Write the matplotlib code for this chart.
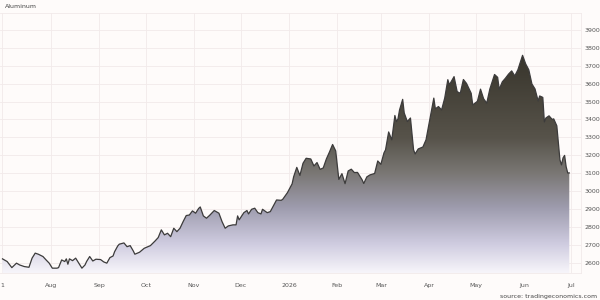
import pandas as pd
import numpy as np
import matplotlib
matplotlib.use("Agg")
import matplotlib.pyplot as plt
import matplotlib.dates as mdates
from matplotlib.colors import LinearSegmentedColormap

# aluminum price, USD/t
dates = [
    "2025-07-01", "2025-07-04", "2025-07-07", "2025-07-10", "2025-07-12", "2025-07-15",
    "2025-07-18", "2025-07-20", "2025-07-22", "2025-07-24", "2025-07-27", "2025-07-29",
    "2025-07-31", "2025-08-02", "2025-08-05", "2025-08-06", "2025-08-08", "2025-08-10",
    "2025-08-11", "2025-08-12", "2025-08-13", "2025-08-15", "2025-08-17", "2025-08-19",
    "2025-08-21", "2025-08-23", "2025-08-24", "2025-08-26", "2025-08-28", "2025-08-30",
    "2025-09-02", "2025-09-04", "2025-09-06", "2025-09-08", "2025-09-10", "2025-09-11",
    "2025-09-13", "2025-09-14", "2025-09-17", "2025-09-19", "2025-09-21", "2025-09-23",
    "2025-09-24", "2025-09-26", "2025-09-27", "2025-09-30", "2025-10-04", "2025-10-07",
    "2025-10-09", "2025-10-11", "2025-10-13", "2025-10-15", "2025-10-17", "2025-10-19",
    "2025-10-21", "2025-10-23", "2025-10-25", "2025-10-27", "2025-10-29", "2025-10-31",
    "2025-11-02", "2025-11-04", "2025-11-05", "2025-11-07", "2025-11-09", "2025-11-11",
    "2025-11-14", "2025-11-17", "2025-11-19", "2025-11-21", "2025-11-23", "2025-11-26",
    "2025-11-28", "2025-11-29", "2025-11-30", "2025-12-03", "2025-12-05", "2025-12-06",
    "2025-12-08", "2025-12-10", "2025-12-12", "2025-12-14", "2025-12-15", "2025-12-18",
    "2025-12-20", "2025-12-24", "2025-12-27", "2025-12-28", "2025-12-31", "2026-01-03",
    "2026-01-04", "2026-01-06", "2026-01-08", "2026-01-10", "2026-01-12", "2026-01-15",
    "2026-01-17", "2026-01-19", "2026-01-21", "2026-01-23", "2026-01-25", "2026-01-27",
    "2026-01-29", "2026-01-31", "2026-02-02", "2026-02-04", "2026-02-06", "2026-02-08",
    "2026-02-10", "2026-02-12", "2026-02-14", "2026-02-17", "2026-02-18", "2026-02-20",
    "2026-02-22", "2026-02-25", "2026-02-27", "2026-03-01", "2026-03-03", "2026-03-04",
    "2026-03-06", "2026-03-08", "2026-03-10", "2026-03-11", "2026-03-12", "2026-03-13",
    "2026-03-15", "2026-03-16", "2026-03-18", "2026-03-20", "2026-03-22", "2026-03-23",
    "2026-03-25", "2026-03-28", "2026-03-30", "2026-04-02", "2026-04-04", "2026-04-05",
    "2026-04-07", "2026-04-09", "2026-04-11", "2026-04-13", "2026-04-14", "2026-04-17",
    "2026-04-19", "2026-04-21", "2026-04-23", "2026-04-25", "2026-04-28", "2026-04-29",
    "2026-05-02", "2026-05-04", "2026-05-06", "2026-05-08", "2026-05-10", "2026-05-13",
    "2026-05-15", "2026-05-16", "2026-05-18", "2026-05-20", "2026-05-22", "2026-05-24",
    "2026-05-26", "2026-05-28", "2026-05-30", "2026-05-31", "2026-06-02", "2026-06-04",
    "2026-06-06", "2026-06-08", "2026-06-10", "2026-06-11", "2026-06-13", "2026-06-14",
    "2026-06-15", "2026-06-17", "2026-06-19", "2026-06-20", "2026-06-22", "2026-06-24",
    "2026-06-25", "2026-06-26", "2026-06-27", "2026-06-28", "2026-06-29", "2026-06-30",
]
prices = [
    2621, 2606, 2572, 2597, 2587, 2578,
    2574, 2625, 2653, 2647, 2634, 2615,
    2597, 2569, 2569, 2572, 2615, 2606,
    2621, 2591, 2621, 2611, 2625, 2597,
    2569, 2587, 2606, 2634, 2609, 2619,
    2617, 2604, 2597, 2628, 2637, 2661,
    2693, 2703, 2710, 2689, 2695, 2665,
    2647, 2654, 2658, 2680, 2695, 2721,
    2740, 2783, 2755, 2764, 2745, 2792,
    2773, 2792, 2829, 2863, 2866, 2889,
    2876, 2903, 2911, 2861, 2848, 2864,
    2891, 2876, 2829, 2792, 2805, 2811,
    2811, 2861, 2839, 2879, 2891, 2872,
    2898, 2904, 2879, 2872, 2898, 2879,
    2885, 2950, 2948, 2954, 2991, 3040,
    3080, 3132, 3087, 3155, 3183, 3179,
    3140, 3159, 3121, 3129, 3179, 3218,
    3260, 3224, 3065, 3097, 3041, 3112,
    3122, 3103, 3104, 3062, 3042, 3079,
    3090, 3098, 3168, 3149, 3213, 3230,
    3330, 3286, 3422, 3388, 3403, 3453,
    3512, 3436, 3388, 3408, 3230, 3207,
    3235, 3246, 3286, 3425, 3519, 3459,
    3472, 3453, 3519, 3622, 3593, 3639,
    3555, 3546, 3623, 3601, 3546, 3481,
    3501, 3569, 3515, 3491, 3570, 3651,
    3635, 3568, 3610, 3630, 3653, 3671,
    3643, 3677, 3732, 3758, 3710, 3677,
    3598, 3570, 3503, 3531, 3523, 3386,
    3408, 3420, 3400, 3403, 3364, 3174,
    3146, 3185, 3199, 3135, 3101, 3101,
]
tick_dates = ["2025-07-01", "2025-08-01", "2025-09-01", "2025-10-01", "2025-11-01",
              "2025-12-01", "2026-01-01", "2026-02-01", "2026-03-01", "2026-04-01",
              "2026-05-01", "2026-06-01", "2026-07-01"]
tick_labels = ["1", "Aug", "Sep", "Oct", "Nov", "Dec", "2026", "Feb", "Mar", "Apr",
               "May", "Jun", "Jul"]
y_ticks = list(range(2600, 4000, 100))

bg = "#fefbfa"
grid_col = "#f2eaea"

x = mdates.date2num(pd.to_datetime(dates))
y = np.array(prices)

fig = plt.figure(figsize=(6, 3), dpi=100, facecolor=bg)
ax = fig.add_axes([0.0, 0.09, 0.968, 0.867], facecolor=bg)
ax.set_axisbelow(True)

x0 = mdates.date2num(pd.Timestamp("2025-07-01")) - 1.6
x1 = mdates.date2num(pd.Timestamp("2026-07-01")) + 6.4
y0, y1 = 2542, 3995
ax.set_xlim(x0, x1)
ax.set_ylim(y0, y1)

# gradient fill under the line, dark at the top fading to pale lavender
cmap = LinearSegmentedColormap.from_list(
    "alu", [(0.0, "#f7f5fa"), (0.13, "#cfcce0"), (0.29, "#9f9daf"),
            (0.45, "#7a7774"), (0.61, "#57534a"), (1.0, "#36332a")])
grad = np.linspace(0, 1, 256).reshape(-1, 1)
img = ax.imshow(grad, cmap=cmap, aspect="auto", origin="lower",
                extent=[x0, x1, y0, 3780], zorder=1)
poly = ax.fill_between(x, y, y0, color="none", zorder=1)
clip = poly.get_paths()[0]
img.set_clip_path(clip, transform=ax.transData)

ax.plot(x, y, color="#3c3b3b", lw=0.9, zorder=3)

ax.set_xticks(mdates.date2num(pd.to_datetime(tick_dates)))
ax.set_xticklabels(tick_labels)
ax.set_yticks(y_ticks)
ax.yaxis.tick_right()
ax.tick_params(axis="both", length=0, labelsize=4.5, colors="#555555")
ax.tick_params(axis="x", pad=7)
ax.tick_params(axis="y", pad=3)
ax.grid(True, color=grid_col, lw=0.6)
for s in ax.spines.values():
    s.set_color(grid_col)
    s.set_linewidth(0.6)
ax.spines["left"].set_visible(False)

fig.text(0.008, 0.978, "Aluminum", fontsize=4.5, color="#444444", va="center")
fig.text(0.995, 0.013, "source: tradingeconomics.com", fontsize=4.5,
         color="#444444", ha="right", va="center")

fig.savefig("out.png", dpi=100, facecolor=bg)
